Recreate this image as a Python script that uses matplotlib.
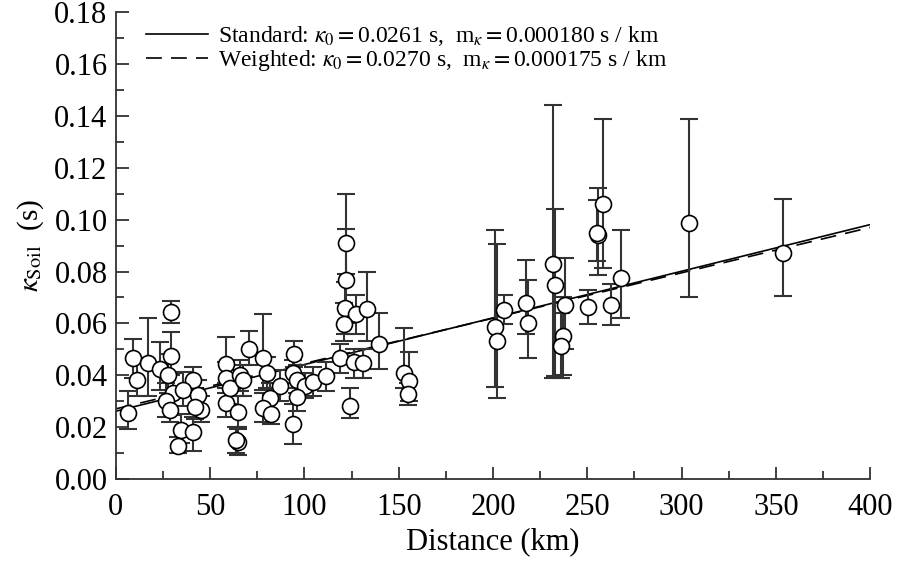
import numpy as np
import matplotlib
matplotlib.use("Agg")
import matplotlib.pyplot as plt
from matplotlib.ticker import MultipleLocator

plt.rcParams['font.family'] = ['Liberation Serif', 'DejaVu Serif']
plt.rcParams['mathtext.fontset'] = 'stix'

# site kappa values: distance (km), kappa (s), lower / upper bar ends (s)
distance = [6.5, 9.2, 11.0, 16.9, 23.3, 29.1, 29.5, 27.7, 30.4, 26.8,
            28.6, 34.3, 32.9, 41.0, 40.7, 35.7, 43.8, 45.4, 41.9, 58.3,
            58.3, 58.3, 60.4, 64.8, 64.8, 63.5, 66.1, 70.7, 67.5, 77.8,
            79.9, 87.0, 81.7, 78.1, 82.5, 94.5, 94.0, 96.3, 100.2, 96.3,
            94.2, 104.6, 111.7, 118.8, 122.0, 122.0, 121.4, 127.6, 133.3, 120.8,
            139.4, 126.2, 130.8, 124.1, 152.7, 155.5, 154.7, 201.0, 202.2, 205.9,
            217.4, 218.3, 231.9, 232.9, 238.1, 236.9, 235.8, 250.5, 258.4, 255.7,
            255.2, 262.5, 267.8, 303.8, 353.8]
kappa = [0.0254, 0.0466, 0.0380, 0.0447, 0.0424, 0.0644, 0.0475, 0.0401, 0.0331, 0.0302,
         0.0266, 0.0189, 0.0127, 0.0179, 0.0380, 0.0344, 0.0323, 0.0266, 0.0279, 0.0443,
         0.0389, 0.0292, 0.0350, 0.0256, 0.0144, 0.0148, 0.0401, 0.0502, 0.0382, 0.0468,
         0.0410, 0.0359, 0.0312, 0.0273, 0.0251, 0.0483, 0.0408, 0.0382, 0.0357, 0.0315,
         0.0212, 0.0372, 0.0395, 0.0466, 0.0910, 0.0766, 0.0659, 0.0637, 0.0655, 0.0598,
         0.0521, 0.0449, 0.0447, 0.0282, 0.0410, 0.0376, 0.0328, 0.0584, 0.0533, 0.0650,
         0.0678, 0.0601, 0.0829, 0.0749, 0.0669, 0.0553, 0.0511, 0.0663, 0.1062, 0.0942,
         0.0950, 0.0669, 0.0775, 0.0987, 0.0871]
kappa_lo = [0.0192, 0.0390, 0.0318, 0.0318, 0.0344, 0.0603, 0.0400, 0.0330, 0.0247, 0.0240,
            0.0220, 0.0140, 0.0099, 0.0109, 0.0330, 0.0280, 0.0270, 0.0220, 0.0230, 0.0370,
            0.0330, 0.0240, 0.0290, 0.0192, 0.0093, 0.0100, 0.0340, 0.0440, 0.0320, 0.0344,
            0.0350, 0.0300, 0.0260, 0.0220, 0.0210, 0.0430, 0.0350, 0.0330, 0.0310, 0.0260,
            0.0135, 0.0320, 0.0340, 0.0410, 0.0790, 0.0600, 0.0560, 0.0560, 0.0530, 0.0530,
            0.0424, 0.0390, 0.0390, 0.0234, 0.0350, 0.0300, 0.0286, 0.0356, 0.0312, 0.0597,
            0.0560, 0.0468, 0.0390, 0.0395, 0.0500, 0.0400, 0.0389, 0.0598, 0.0813, 0.0785,
            0.0839, 0.0595, 0.0620, 0.0702, 0.0704]
kappa_hi = [0.0337, 0.0539, 0.0450, 0.0620, 0.0528, 0.0685, 0.0565, 0.0480, 0.0410, 0.0370,
            0.0320, 0.0250, 0.0160, 0.0240, 0.0431, 0.0414, 0.0380, 0.0320, 0.0330, 0.0549,
            0.0450, 0.0350, 0.0420, 0.0320, 0.0200, 0.0200, 0.0460, 0.0569, 0.0440, 0.0636,
            0.0470, 0.0420, 0.0370, 0.0330, 0.0300, 0.0530, 0.0460, 0.0440, 0.0410, 0.0370,
            0.0290, 0.0430, 0.0450, 0.0520, 0.1100, 0.0965, 0.0760, 0.0708, 0.0798, 0.0680,
            0.0640, 0.0500, 0.0500, 0.0349, 0.0582, 0.0488, 0.0370, 0.0959, 0.0906, 0.0710,
            0.0846, 0.0768, 0.1444, 0.1041, 0.0852, 0.0700, 0.0640, 0.0727, 0.1389, 0.1122,
            0.1075, 0.0753, 0.0961, 0.1389, 0.1081]

# regression fits given in the legend
fits = [("Standard", 0.0261, 0.000180, '0.000180', '-'),
        ("Weighted", 0.0270, 0.000175, '0.000175', (0, (9.5, 5.5)))]

fig = plt.figure(figsize=(8.98, 5.62), dpi=100)
ax = fig.add_axes([0.129, 0.148, 0.840, 0.830])

xline = np.array([0, 400])
for name, k0, m, mtxt, ls in fits:
    lab = name + r': $\kappa_0 = $' + '%.4f s,  m' % k0 + r'$_\kappa = $' + mtxt + ' s / km'
    ax.plot(xline, k0 + m * xline, color='black', ls=ls, lw=1.2, label=lab, zorder=2)

k = np.array(kappa)
yerr = [k - np.array(kappa_lo), np.array(kappa_hi) - k]
ax.errorbar(distance, kappa, yerr=yerr, fmt='none', ecolor='#333333',
            elinewidth=1.5, capsize=6.5, capthick=1.5, zorder=3)
ax.plot(distance, kappa, 'o', ms=11.5, mfc='white', mec='black', mew=1.2,
        ls='none', zorder=4)

ax.set_xlim(0, 400)
ax.set_ylim(0, 0.18)
ax.xaxis.set_major_locator(MultipleLocator(50))
ax.xaxis.set_minor_locator(MultipleLocator(25))
ax.yaxis.set_major_locator(MultipleLocator(0.02))
ax.yaxis.set_minor_locator(MultipleLocator(0.01))
ax.yaxis.set_major_formatter(plt.FormatStrFormatter('%.2f'))
ax.tick_params(which='both', direction='in', labelsize=22, color='#333333')
ax.tick_params(which='major', length=9, width=1.3)
ax.tick_params(which='minor', length=6, width=1.3)
ax.tick_params(axis='x', which='major', pad=10)
ax.tick_params(axis='y', which='major', pad=6)
ax.spines['top'].set_visible(False)
ax.spines['right'].set_visible(False)
for s in ('left', 'bottom'):
    ax.spines[s].set_linewidth(1.3)
    ax.spines[s].set_color('#333333')

ax.set_xlabel('Distance (km)', fontsize=22, labelpad=4)
ax.set_ylabel(r'$\kappa_{\rm Soil}$  (s)', fontsize=21, labelpad=6)

ax.legend(loc='upper left', bbox_to_anchor=(0.028, 0.995), frameon=False, fontsize=17,
          handlelength=2.6, handletextpad=0.45, labelspacing=0.0, borderaxespad=0)

fig.savefig('out.png', dpi=100)
